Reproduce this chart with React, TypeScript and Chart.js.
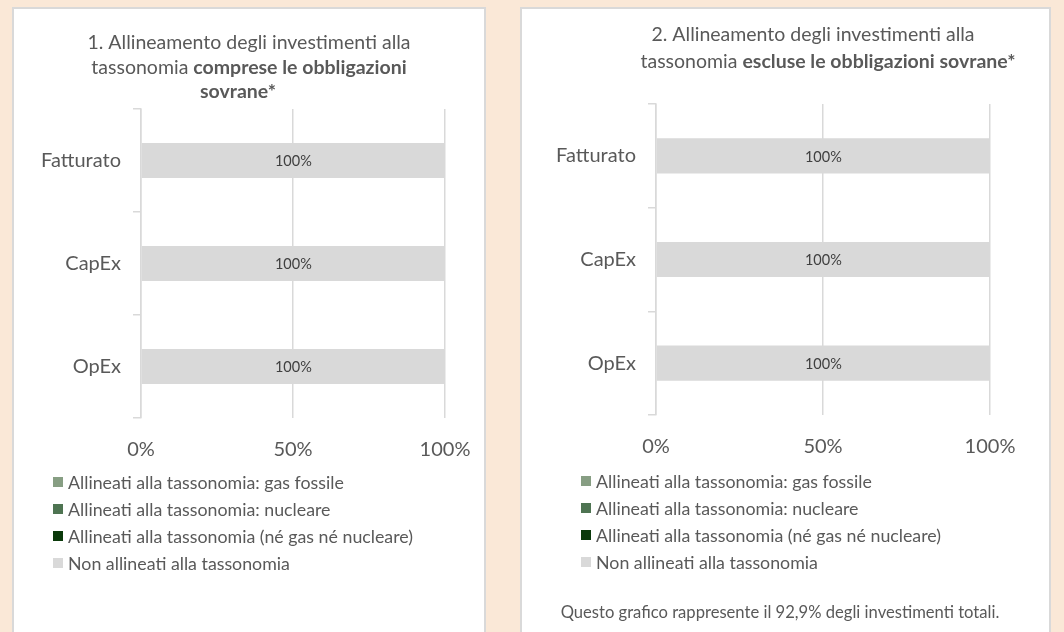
import React, { useEffect, useRef } from "react";
import { Chart, registerables } from "chart.js";

Chart.register(...registerables);

// ---------- data ----------
const categories = ["Fatturato", "CapEx", "OpEx"];
const seriesLabels = [
  "Allineati alla tassonomia: gas fossile",
  "Allineati alla tassonomia: nucleare",
  "Allineati alla tassonomia (né gas né nucleare)",
  "Non allineati alla tassonomia",
];
const seriesColors = ["#879e83", "#4e7452", "#0b3a0b", "#d9d9d9"];

// Chart 1: including sovereign bonds
const c1GasFossile = [0, 0, 0];
const c1Nucleare = [0, 0, 0];
const c1NeGasNeNucleare = [0, 0, 0];
const c1NonAllineati = [100, 100, 100];

// Chart 2: excluding sovereign bonds
const c2GasFossile = [0, 0, 0];
const c2Nucleare = [0, 0, 0];
const c2NeGasNeNucleare = [0, 0, 0];
const c2NonAllineati = [100, 100, 100];

const xMin = 0;
const xMax = 100;
const xStep = 50;

const title1 = [
  [{ t: "1. Allineamento degli investimenti alla", b: false }],
  [
    { t: "tassonomia ", b: false },
    { t: "comprese le obbligazioni", b: true },
  ],
  [{ t: "sovrane*", b: true }],
];
const title2 = [
  [{ t: "2. Allineamento degli investimenti alla", b: false }],
  [
    { t: "tassonomia ", b: false },
    { t: "escluse le obbligazioni sovrane*", b: true },
  ],
];
const footnote2 = "Questo grafico rappresente il 92,9% degli investimenti totali.";

// ---------- style ----------
const FONT = "Lato, 'Open Sans', sans-serif";
const TEXT = "#595959";
const GRID = "#d9d9d9";
const BG = "#fae8d7";
const TITLE_SIZE = 19.5;
const LEGEND_SIZE = 17.8;
const FOOT_SIZE = 16.6;
const LABEL_SIZE = 14.5;

type Part = { t: string; b: boolean };
type Layout = {
  left: number;
  top: number;
  width: number;
  height: number;
  areaLeft: number;
  areaRight: number;
  areaTop: number;
  areaBottom: number;
  titleLines: Part[][];
  titleCenters: number[];
  titleYs: number[];
  legendX: number;
  legendY0: number;
  legendStep: number;
  footnote?: string;
  footX?: number;
  footY?: number;
};

function ChartPanel({ series, layout }: { series: number[][]; layout: Layout }) {
  const ref = useRef<HTMLCanvasElement | null>(null);
  useEffect(() => {
    if (!ref.current) return;
    const L = layout;
    const xAxisH = 44;
    const overlay = {
      id: "overlay",
      afterDatasetsDraw(chart: any) {
        const ctx = chart.ctx;
        ctx.save();
        ctx.font = `${LABEL_SIZE}px ${FONT}`;
        ctx.fillStyle = "#404040";
        ctx.textAlign = "center";
        ctx.textBaseline = "middle";
        chart.data.datasets.forEach((ds: any, i: number) => {
          const meta = chart.getDatasetMeta(i);
          meta.data.forEach((bar: any, j: number) => {
            const v = ds.data[j];
            if (!v) return;
            const p = bar.getProps(["x", "y", "base"], true);
            ctx.fillText(v + "%", (p.x + p.base) / 2, p.y + 1);
          });
        });
        ctx.restore();
      },
      afterDraw(chart: any) {
        const ctx = chart.ctx;
        ctx.save();
        ctx.fillStyle = TEXT;
        ctx.textBaseline = "middle";
        // title
        L.titleLines.forEach((parts, li) => {
          let total = 0;
          parts.forEach((p) => {
            ctx.font = `${p.b ? "bold " : ""}${TITLE_SIZE}px ${FONT}`;
            total += ctx.measureText(p.t).width;
          });
          let x = L.titleCenters[li] - total / 2;
          ctx.textAlign = "left";
          parts.forEach((p) => {
            ctx.font = `${p.b ? "bold " : ""}${TITLE_SIZE}px ${FONT}`;
            ctx.fillText(p.t, x, L.titleYs[li]);
            x += ctx.measureText(p.t).width;
          });
        });
        // legend
        ctx.font = `${LEGEND_SIZE}px ${FONT}`;
        ctx.textAlign = "left";
        chart.data.datasets.forEach((ds: any, i: number) => {
          const y = L.legendY0 + i * L.legendStep;
          ctx.fillStyle = ds.backgroundColor;
          ctx.fillRect(L.legendX, y - 5, 10, 10);
          ctx.fillStyle = TEXT;
          ctx.fillText(ds.label, L.legendX + 15, y + 1);
        });
        // footnote
        if (L.footnote) {
          ctx.font = `${FOOT_SIZE}px ${FONT}`;
          ctx.textAlign = "center";
          ctx.fillText(L.footnote, L.footX, L.footY);
        }
        ctx.restore();
      },
    };
    const chart = new Chart(ref.current, {
      type: "bar",
      data: {
        labels: categories,
        datasets: series.map((d, i) => ({
          label: seriesLabels[i],
          data: d,
          backgroundColor: seriesColors[i],
          borderWidth: 0,
          categoryPercentage: 1,
          barPercentage: 0.34,
        })),
      },
      options: {
        indexAxis: "y",
        animation: false,
        responsive: false,
        maintainAspectRatio: false,
        layout: {
          padding: {
            left: 0,
            right: L.width - L.areaRight,
            top: L.areaTop,
            bottom: L.height - L.areaBottom - xAxisH,
          },
        },
        plugins: {
          legend: { display: false },
          title: { display: false },
          tooltip: { enabled: false },
        },
        scales: {
          x: {
            type: "linear",
            stacked: true,
            min: xMin,
            max: xMax,
            ticks: {
              stepSize: xStep,
              padding: 20,
              color: TEXT,
              font: { family: FONT, size: 20 },
              callback: (v: any) => v + "%",
            },
            grid: { color: GRID, lineWidth: 1.5, drawTicks: false },
            border: { display: false },
            afterFit: (s: any) => {
              s.height = xAxisH;
              s.paddingLeft = 0;
              s.paddingRight = 0;
            },
          },
          y: {
            type: "category",
            stacked: true,
            ticks: {
              padding: 12,
              color: TEXT,
              font: { family: FONT, size: 20 },
            },
            grid: {
              color: GRID,
              lineWidth: 1.5,
              drawOnChartArea: false,
              drawTicks: true,
              tickLength: 8,
              offset: true,
            },
            border: { display: true, color: GRID, width: 1.5 },
            afterFit: (s: any) => {
              s.width = L.areaLeft;
              s.paddingTop = 0;
              s.paddingBottom = 0;
            },
          },
        },
      },
      plugins: [overlay],
    } as any);
    return () => chart.destroy();
  }, []);
  return (
    <canvas
      ref={ref}
      width={layout.width}
      height={layout.height}
      style={{
        position: "absolute",
        left: layout.left,
        top: layout.top,
        width: layout.width,
        height: layout.height,
      }}
    />
  );
}

const layout1: Layout = {
  left: 12,
  top: 7,
  width: 474,
  height: 625,
  areaLeft: 141 - 12,
  areaRight: 445 - 12,
  areaTop: 109 - 7,
  areaBottom: 418 - 7,
  titleLines: title1,
  titleCenters: [249 - 12, 249 - 12, 238 - 12],
  titleYs: [43 - 7, 68 - 7, 92 - 7],
  legendX: 53 - 12,
  legendY0: 482 - 7,
  legendStep: 27,
};

const layout2: Layout = {
  left: 520,
  top: 7,
  width: 530,
  height: 625,
  areaLeft: 656 - 520,
  areaRight: 990 - 520,
  areaTop: 104 - 7,
  areaBottom: 415 - 7,
  titleLines: title2,
  titleCenters: [813 - 520, 828 - 520],
  titleYs: [35 - 7, 62 - 7],
  legendX: 581 - 520,
  legendY0: 481 - 7,
  legendStep: 27,
  footnote: footnote2,
  footX: 780 - 520,
  footY: 613 - 7,
};

export default function App() {
  return (
    <div
      style={{
        position: "fixed",
        left: 0,
        top: 0,
        width: 1064,
        height: 632,
        background: BG,
        overflow: "hidden",
      }}
    >
      <div
        style={{
          position: "absolute",
          left: 12,
          top: 7,
          width: 474,
          height: 640,
          background: "#fff",
          border: "2px solid #d9d9d9",
          boxSizing: "border-box",
        }}
      />
      <div
        style={{
          position: "absolute",
          left: 520,
          top: 7,
          width: 531,
          height: 640,
          background: "#fff",
          border: "2px solid #d9d9d9",
          boxSizing: "border-box",
        }}
      />
      <ChartPanel
        series={[c1GasFossile, c1Nucleare, c1NeGasNeNucleare, c1NonAllineati]}
        layout={layout1}
      />
      <ChartPanel
        series={[c2GasFossile, c2Nucleare, c2NeGasNeNucleare, c2NonAllineati]}
        layout={layout2}
      />
    </div>
  );
}
